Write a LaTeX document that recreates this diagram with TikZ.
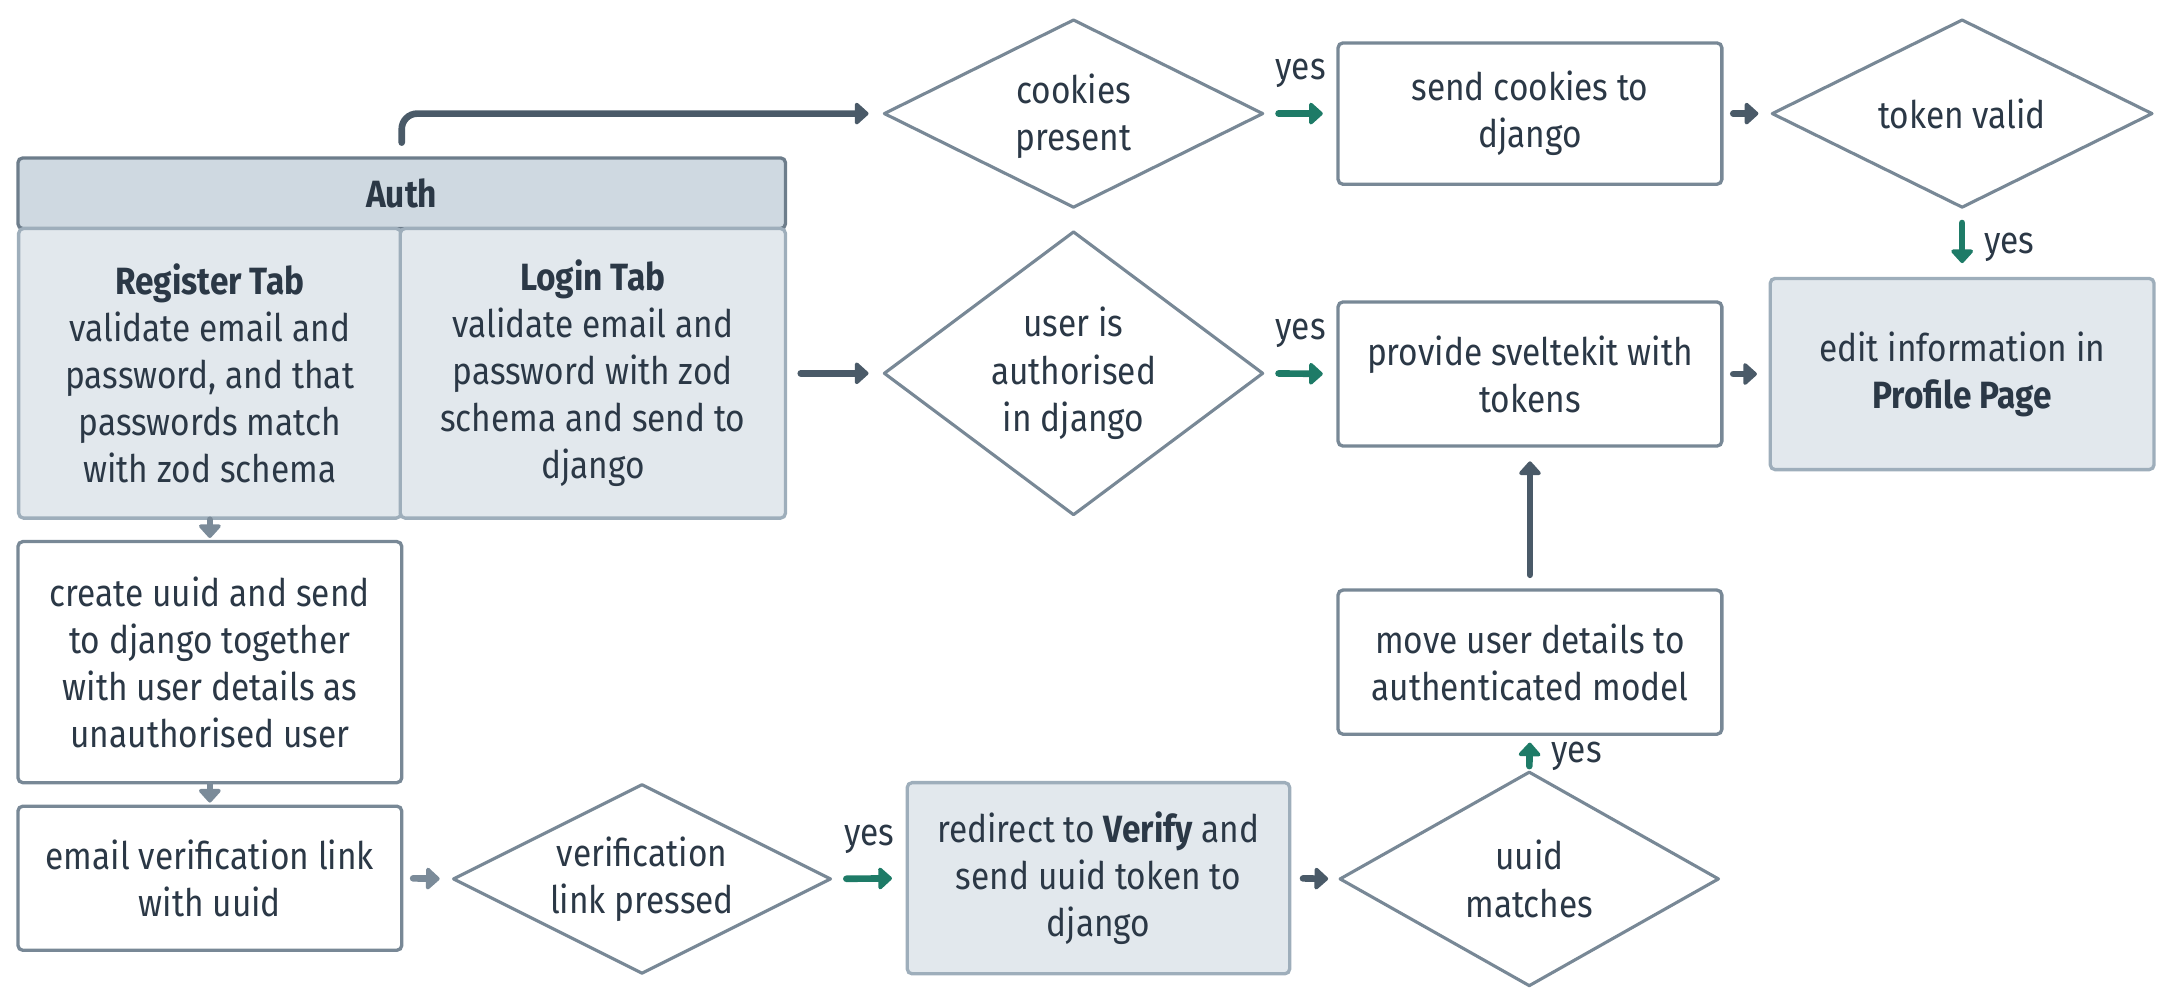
\documentclass[tikz,border=0pt]{standalone}
\usepackage{fontspec}
\setmainfont{Fira Sans}[FakeStretch=0.88]
\usetikzlibrary{arrows.meta,shapes.geometric}
\definecolor{txt}{HTML}{2B3846}
\definecolor{boxc}{HTML}{788896}
\definecolor{darkc}{HTML}{4A5A68}
\definecolor{greenc}{HTML}{1E7B67}
\definecolor{lightarr}{HTML}{7B8B99}
\definecolor{gfill}{HTML}{E2E8ED}
\definecolor{gstroke}{HTML}{9EAEBB}
\definecolor{hdrfill}{HTML}{CFD9E1}
\definecolor{hdrstroke}{HTML}{6D7D8B}
\begin{document}
\begin{tikzpicture}[x=0.025cm,y=-0.025cm,
  base/.style={font=\fontsize{19.5}{24.2}\selectfont, text=txt, align=center},
  box/.style={base, draw=boxc, line width=1.7pt, fill=white, rounded corners=2.5pt,
    minimum width=6.925cm, minimum height=2.6cm, inner sep=0pt},
  gbox/.style={box, draw=gstroke, fill=gfill},
  dia/.style={diamond, draw=boxc, line width=1.6pt, fill=white, inner sep=0pt, line join=round},
  arr/.style={line width=3.4pt, line cap=round, -{Triangle[length=7.5pt,width=13pt,round]},
    shorten <=7pt, shorten >=7pt},
  darr/.style={arr, draw=darkc},
  garr/.style={arr, draw=greenc},
  larr/.style={arr, draw=lightarr},
  lbl/.style={base, inner sep=0pt}]
\useasboundingbox (0,0) rectangle (1568,725);

% Auth group
\node[gbox, minimum width=13.85cm, minimum height=1.275cm, fill=hdrfill, draw=hdrstroke,
  font=\fontsize{19.5}{24.2}\selectfont\bfseries] (auth) at (290,139.5) {Auth};
\node[gbox, minimum width=6.9cm, minimum height=5.225cm] (reg) at (151.5,269.5)
  {\textbf{Register Tab}\\validate email and\\password, and that\\passwords match\\with zod schema};
\node[gbox, minimum width=6.95cm, minimum height=5.225cm] (login) at (428,269.5)
  {\textbf{Login Tab}\\validate email and\\password with zod\\schema and send to\\django};

% left column
\node[box, minimum height=4.35cm] (create) at (151.5,478)
  {create uuid and send\\to django together\\with user details as\\unauthorised user};
\node[box] (email) at (151.5,634) {email verification link\\with uuid};

% bottom row
\node[dia, minimum width=6.825cm, minimum height=3.425cm] (verif) at (463.5,634.5) {};
\node[base] (veriftxt) at (verif.center) {verification\\link pressed};
\node[gbox, minimum width=6.9cm, minimum height=3.45cm] (redir) at (793,634)
  {redirect to \textbf{Verify} and\\send uuid token to\\django};
\node[dia, minimum width=6.85cm, minimum height=3.875cm] (uuid) at (1104,634.5) {};
\node[base] (uuidtxt) at (uuid.center) {uuid\\matches};

% right column
\node[box] (move) at (1104.5,478) {move user details to\\authenticated model};
\node[box] (prov) at (1104.5,270) {provide sveltekit with\\tokens};
\node[gbox, minimum height=3.45cm] (prof) at (1416.5,270) {edit information in\\\textbf{Profile Page}};
\node[dia, minimum width=6.85cm, minimum height=5.125cm] (uauth) at (775,269.5) {};
\node[base] (uauthtxt) at (uauth.center) {user is\\authorised\\in django};

% top row
\node[dia, minimum width=6.85cm, minimum height=3.4cm] (cook) at (775,82) {};
\node[base] (cooktxt) at ([yshift=-0.05cm]cook.center) {cookies\\present};
\node[box, minimum height=2.55cm] (sendc) at (1104.5,82) {send cookies to\\django};
\node[dia, minimum width=6.875cm, minimum height=3.4cm] (token) at (1416.5,82) {};
\node[base] (tokentxt) at (token.center) {token valid};

% connectors
\draw[darr, rounded corners=8pt] (auth.north) |- (cook.west);
\draw[darr] (login.east) -- (uauth.west);
\draw[garr] (cook.east) -- node[lbl, yshift=0.72cm] {yes} (sendc.west);
\draw[darr, shorten <=5pt, shorten >=6pt] (sendc.east) -- (token.west);
\draw[garr] (token.south) -- node[lbl, xshift=0.85cm, yshift=-0.08cm] {yes} (prof.north);
\draw[garr] (uauth.east) -- node[lbl, yshift=0.72cm] {yes} (prov.west);
\draw[darr, shorten <=5pt, shorten >=6pt] (prov.east) -- (prof.west);
\draw[darr] (move.north) -- (prov.south);
\draw[garr, shorten <=2pt, shorten >=3.5pt] (uuid.north) -- node[lbl, xshift=0.85cm, yshift=-0.06cm] {yes} (move.south);
\draw[darr, shorten <=6pt, shorten >=5pt] (redir.east) -- (uuid.west);
\draw[garr] (verif.east) -- node[lbl, yshift=0.7cm] {yes} (redir.west);
\draw[larr, shorten <=5pt, shorten >=6pt] (email.east) -- (verif.west);
\draw[larr, shorten <=0pt, shorten >=1pt] (reg.south) -- (create.north);
\draw[larr, shorten <=0pt, shorten >=1pt] (create.south) -- (email.north);
\end{tikzpicture}
\end{document}
